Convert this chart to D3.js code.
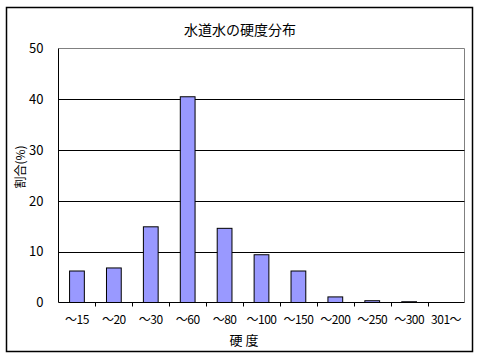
<!DOCTYPE html>
<html><head><meta charset="utf-8">
<script src="https://cdn.jsdelivr.net/npm/d3@7"></script>
<style>body{margin:0;background:#fff}svg{display:block}text{font-family:"Noto Sans CJK JP","Liberation Sans",sans-serif}</style>
</head><body>
<script>
const categories = ["～15","～20","～30","～60","～80","～100","～150","～200","～250","～300","301～"];
const values = [6.2, 6.8, 14.9, 40.5, 14.6, 9.4, 6.2, 1.1, 0.35, 0.15, 0];
const yTicks = [0, 10, 20, 30, 40, 50];
const title = "水道水の硬度分布";
const xTitle = "硬 度";
const yTitle = "割合(%)";

const W = 480, H = 360;
const svg = d3.select("body").append("svg").attr("width", W).attr("height", H);
const L = 58.5, R = 464.5, T = 48.5, B = 302.5;

svg.append("rect").attr("x", 6.5).attr("y", 7.5).attr("width", 466).attr("height", 344)
  .attr("fill", "#fff").attr("stroke", "#000").attr("stroke-width", 1.5);

const x = d3.scaleBand().domain(categories).range([L, R]).padding(0);
const y = d3.scaleLinear().domain([0, 50]).range([B, T]);

// plot border (gray)
svg.append("path").attr("d", `M${L},${T}H${R}V${B}`).attr("fill", "none").attr("stroke", "#808080").attr("stroke-width", 1);

// gridlines
svg.append("g").selectAll("line").data(yTicks.filter(d => d > 0 && d < 50)).join("line")
  .attr("x1", L).attr("x2", R).attr("y1", d => Math.round(y(d)) + 0.5).attr("y2", d => Math.round(y(d)) + 0.5)
  .attr("stroke", "#000").attr("stroke-width", 1);

// bars
const bw = x.bandwidth() * 0.4;
svg.append("g").selectAll("rect").data(values).join("rect")
  .attr("x", (d, i) => x(categories[i]) + (x.bandwidth() - bw) / 2)
  .attr("y", d => y(d))
  .attr("width", bw)
  .attr("height", d => B - y(d))
  .attr("fill", "#9999FF").attr("stroke", "#000").attr("stroke-width", 1)
  .attr("visibility", d => d > 0 ? "visible" : "hidden");

// y axis
const ya = svg.append("g").attr("transform", `translate(${L},0)`)
  .call(d3.axisLeft(y).tickValues(yTicks).tickSize(0).tickPadding(15));
ya.select(".domain").attr("stroke", "#000").attr("d", `M0,${T}V${B}`);
ya.selectAll("text").attr("font-size", 13).attr("fill", "#000");

// x axis
const xa = svg.append("g").attr("transform", `translate(0,${B})`)
  .call(d3.axisBottom(x).tickSize(0).tickPadding(13));
xa.select(".domain").attr("stroke", "#000").attr("d", `M${L},0H${R}`);
xa.selectAll("text").attr("font-size", 12).attr("fill", "#000").attr("letter-spacing", "-0.5");
// boundary ticks
xa.append("g").selectAll("line").data(categories.slice(1)).join("line")
  .attr("x1", d => Math.round(x(d)) + 0.5).attr("x2", d => Math.round(x(d)) + 0.5)
  .attr("y1", 0).attr("y2", 4).attr("stroke", "#000");

// titles
svg.append("text").attr("x", 240).attr("y", 35).attr("text-anchor", "middle")
  .attr("font-size", 14).text(title);
svg.append("text").attr("x", 244).attr("y", 345).attr("text-anchor", "middle")
  .attr("font-size", 13).text(xTitle);
svg.append("text").attr("transform", "translate(25,167) rotate(-90)").attr("text-anchor", "middle")
  .attr("font-size", 12).text(yTitle);
</script>
</body></html>
